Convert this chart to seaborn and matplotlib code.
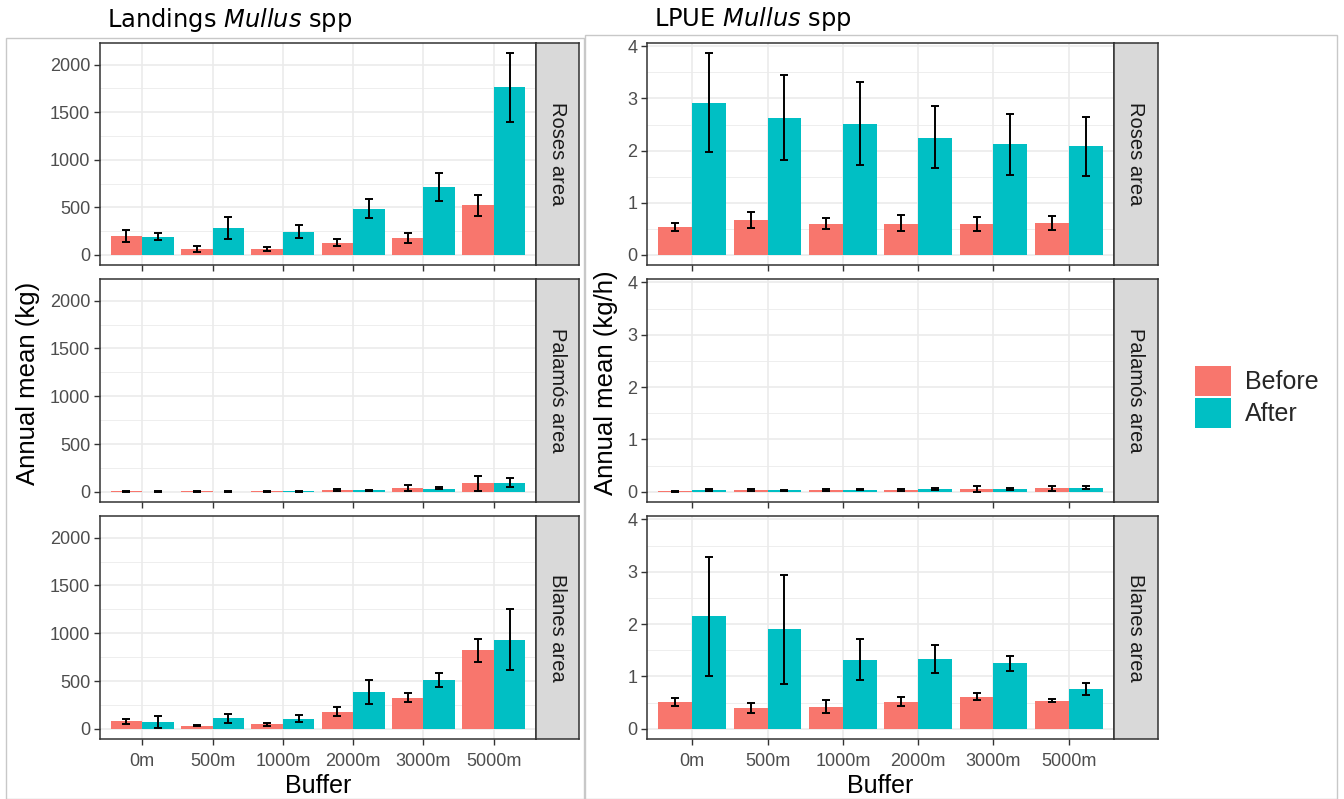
import numpy as np
import pandas as pd
import matplotlib
matplotlib.use("Agg")
import matplotlib.pyplot as plt
from matplotlib.patches import Rectangle, Patch
import seaborn as sns

buffers = ["0m", "500m", "1000m", "2000m", "3000m", "5000m"]
areas = ["Roses area", "Palamós area", "Blanes area"]
periods = ["Before", "After"]

# Landings (kg): mean, low, high per area, per period
land_before = {
    "Roses area":   [200, 65, 60, 130, 180, 520],
    "Palamós area": [5, 4, 5, 18, 40, 90],
    "Blanes area":  [80, 35, 50, 180, 320, 820],
}
land_before_lo = {
    "Roses area":   [140, 35, 40, 90, 130, 410],
    "Palamós area": [2, 2, 2, 10, 10, 10],
    "Blanes area":  [55, 25, 35, 130, 280, 700],
}
land_before_hi = {
    "Roses area":   [260, 95, 85, 170, 230, 630],
    "Palamós area": [8, 6, 8, 28, 75, 170],
    "Blanes area":  [105, 45, 65, 230, 370, 940],
}
land_after = {
    "Roses area":   [190, 285, 240, 480, 710, 1760],
    "Palamós area": [3, 3, 5, 15, 35, 95],
    "Blanes area":  [70, 110, 105, 385, 510, 930],
}
land_after_lo = {
    "Roses area":   [160, 170, 180, 390, 570, 1400],
    "Palamós area": [1, 1, 2, 10, 25, 55],
    "Blanes area":  [10, 60, 70, 260, 440, 620],
}
land_after_hi = {
    "Roses area":   [225, 400, 310, 590, 860, 2120],
    "Palamós area": [5, 5, 8, 22, 50, 140],
    "Blanes area":  [130, 160, 145, 510, 580, 1250],
}

# LPUE (kg/h)
lpue_before = {
    "Roses area":   [0.53, 0.67, 0.60, 0.60, 0.59, 0.61],
    "Palamós area": [0.01, 0.03, 0.03, 0.04, 0.06, 0.07],
    "Blanes area":  [0.51, 0.39, 0.42, 0.52, 0.61, 0.54],
}
lpue_before_lo = {
    "Roses area":   [0.45, 0.52, 0.50, 0.45, 0.46, 0.48],
    "Palamós area": [0.00, 0.01, 0.01, 0.02, 0.00, 0.02],
    "Blanes area":  [0.43, 0.30, 0.30, 0.43, 0.55, 0.51],
}
lpue_before_hi = {
    "Roses area":   [0.62, 0.82, 0.71, 0.76, 0.72, 0.74],
    "Palamós area": [0.02, 0.05, 0.05, 0.06, 0.12, 0.12],
    "Blanes area":  [0.59, 0.50, 0.56, 0.61, 0.68, 0.57],
}
lpue_after = {
    "Roses area":   [2.92, 2.63, 2.51, 2.25, 2.12, 2.08],
    "Palamós area": [0.04, 0.03, 0.04, 0.06, 0.06, 0.08],
    "Blanes area":  [2.15, 1.90, 1.32, 1.33, 1.25, 0.76],
}
lpue_after_lo = {
    "Roses area":   [1.97, 1.82, 1.72, 1.66, 1.54, 1.52],
    "Palamós area": [0.02, 0.02, 0.03, 0.04, 0.04, 0.05],
    "Blanes area":  [1.01, 0.86, 0.93, 1.07, 1.10, 0.64],
}
lpue_after_hi = {
    "Roses area":   [3.87, 3.45, 3.31, 2.85, 2.71, 2.65],
    "Palamós area": [0.06, 0.04, 0.05, 0.08, 0.08, 0.11],
    "Blanes area":  [3.29, 2.94, 1.72, 1.60, 1.40, 0.87],
}

palette = {"Before": "#F8766D", "After": "#00BFC4"}

sns.set_theme(style="white")
plt.rcParams["font.family"] = ["Liberation Sans", "DejaVu Sans"]

W, H = 1344, 799
fig = plt.figure(figsize=(W / 100, H / 100), dpi=100)


def rect(x0, y0, x1, y1):
    return [x0 / W, 1 - y1 / H, (x1 - x0) / W, (y1 - y0) / H]


rows = [(43, 265), (279, 502), (516, 739)]

# outer boxes
fig.patches.append(Rectangle((6 / W, 0), (584 - 6) / W, 1 - 38 / H, transform=fig.transFigure,
                             fill=False, edgecolor="#c8c8c8", linewidth=1.0))
fig.patches.append(Rectangle((585 / W, 0), (1337 - 585) / W, 1 - 35 / H, transform=fig.transFigure,
                             fill=False, edgecolor="#c8c8c8", linewidth=1.0))


def draw_block(x0, x1, sx1, mean_b, lo_b, hi_b, mean_a, lo_a, hi_a, major, minor, ymax_data):
    ymin = -0.05 * ymax_data
    ymax = 1.05 * ymax_data
    for r, area in enumerate(areas):
        y0, y1 = rows[r]
        ax = fig.add_axes(rect(x0, y0, x1, y1))
        df = pd.DataFrame({
            "Buffer": buffers * 2,
            "Period": ["Before"] * 6 + ["After"] * 6,
            "value": list(mean_b[area]) + list(mean_a[area]),
        })
        sns.barplot(data=df, x="Buffer", y="value", hue="Period", order=buffers,
                    hue_order=periods, palette=palette, width=0.9, errorbar=None,
                    saturation=1, legend=False, ax=ax, zorder=3, linewidth=0,
                    edgecolor="none")
        idx = np.arange(len(buffers))
        for off, m, lo, hi in [(-0.225, mean_b, lo_b, hi_b), (0.225, mean_a, lo_a, hi_a)]:
            mv = np.array(m[area])
            yerr = np.vstack([mv - np.array(lo[area]), np.array(hi[area]) - mv])
            ax.errorbar(idx + off, mv, yerr=yerr, fmt="none", ecolor="black",
                        elinewidth=1.4, capsize=3.2, capthick=1.4, zorder=4)
        ax.set_xlim(-0.6, len(buffers) - 0.4)
        ax.set_ylim(ymin, ymax)
        ax.set_yticks(major)
        ax.set_yticks(minor, minor=True)
        ax.set_facecolor("white")
        ax.grid(True, which="major", color="#EBEBEB", linewidth=1.2, zorder=0)
        ax.grid(True, which="minor", axis="y", color="#EBEBEB", linewidth=0.6, zorder=0)
        ax.set_axisbelow(True)
        for s in ax.spines.values():
            s.set_edgecolor("#333333")
            s.set_linewidth(1.1)
            s.set_visible(True)
        ax.tick_params(axis="both", which="major", length=4, width=1, color="#333333",
                       labelsize=13, labelcolor="#4D4D4D", left=True, bottom=True)
        ax.tick_params(axis="y", which="major", pad=3)
        ax.tick_params(axis="x", which="major", pad=6)
        ax.tick_params(axis="y", which="minor", length=0)
        ax.set_yticklabels([f"{v:g}" for v in major])
        ax.set_xlabel("")
        ax.set_ylabel("")
        if r < 2:
            ax.tick_params(axis="x", labelbottom=False)
        # strip
        sax = fig.add_axes(rect(x1, y0, sx1, y1))
        sax.set_facecolor("#D9D9D9")
        sax.set_xticks([])
        sax.set_yticks([])
        for s in sax.spines.values():
            s.set_edgecolor("#333333")
            s.set_linewidth(1.1)
        sax.text(0.5, 0.5, area, rotation=-90, ha="center", va="center",
                 fontsize=14.5, color="#1A1A1A", transform=sax.transAxes)


draw_block(100, 536, 579, land_before, land_before_lo, land_before_hi,
           land_after, land_after_lo, land_after_hi,
           [0, 500, 1000, 1500, 2000], [250, 750, 1250, 1750],
           max(max(v) for v in land_after_hi.values()))
draw_block(647, 1114, 1158, lpue_before, lpue_before_lo, lpue_before_hi,
           lpue_after, lpue_after_lo, lpue_after_hi,
           [0, 1, 2, 3, 4], [0.5, 1.5, 2.5, 3.5],
           max(max(v) for v in lpue_after_hi.values()))

# titles
fig.text(107 / W, 1 - 20 / H, r"Landings $\mathit{Mullus}$ spp", ha="left", va="center",
         fontsize=17.4, family="DejaVu Sans", color="black")
fig.text(654 / W, 1 - 19 / H, r"LPUE $\mathit{Mullus}$ spp", ha="left", va="center",
         fontsize=17.4, family="DejaVu Sans", color="black")

# axis titles
fig.text(28 / W, 1 - 383 / H, "Annual mean (kg)", rotation=90, ha="center", va="center",
         fontsize=18.5, color="black")
fig.text(606 / W, 1 - 383 / H, "Annual mean (kg/h)", rotation=90, ha="center", va="center",
         fontsize=18.5, color="black")
fig.text(318 / W, 1 - 786 / H, "Buffer", ha="center", va="center", fontsize=18, color="black")
fig.text(880 / W, 1 - 786 / H, "Buffer", ha="center", va="center", fontsize=18, color="black")

# legend
handles = [Patch(facecolor=palette[p], edgecolor="none", label=p) for p in periods]
fig.legend(handles=handles, loc="center left", bbox_to_anchor=(1195 / W, 1 - 397 / H),
           frameon=False, fontsize=18, handlelength=1.45, handleheight=1.45,
           handletextpad=0.55, labelspacing=0.08, borderaxespad=0, borderpad=0)

fig.savefig("out.png", dpi=100, facecolor="white")
